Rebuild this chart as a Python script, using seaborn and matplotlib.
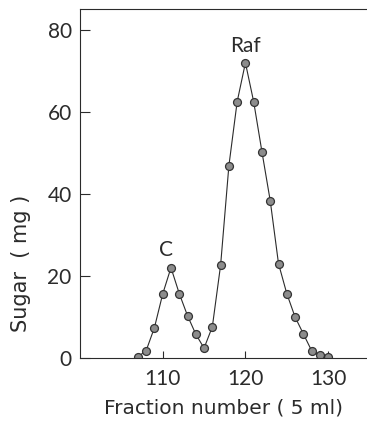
import matplotlib
matplotlib.use("Agg")
import matplotlib.pyplot as plt
import seaborn as sns
import pandas as pd

# Gel-filtration elution profile: sugar content per fraction
fraction = [107, 108, 109, 110, 111, 112, 113, 114, 115, 116, 117, 118,
            119, 120, 121, 122, 123, 124, 125, 126, 127, 128, 129, 130]
sugar_mg = [0.3, 1.8, 7.4, 15.6, 22.0, 15.7, 10.3, 5.8, 2.4, 7.6, 22.6, 46.8,
            62.4, 71.9, 62.4, 50.2, 38.3, 23.0, 15.7, 10.0, 5.9, 1.8, 0.7, 0.2]

# Peak labels
peak_names = ["C", "Raf"]
peak_fraction = [110.4, 120]
peak_label_y = [24.8, 74.5]

x_ticks = [110, 120, 130]
y_ticks = [0, 20, 40, 60, 80]

sns.set_style("ticks")
plt.rcParams["font.family"] = ["Lato", "DejaVu Sans"]
plt.rcParams["font.weight"] = "normal"

df = pd.DataFrame({"fraction": fraction, "sugar": sugar_mg})

fig = plt.figure(figsize=(3.67, 4.21), dpi=100)
ax = fig.add_axes([80 / 367, 1 - 358 / 421, 287 / 367, 349 / 421])

ink = "#2b2b2b"
sns.lineplot(data=df, x="fraction", y="sugar", ax=ax, color=ink, linewidth=0.8,
             marker="o", markersize=5.7, markerfacecolor="#8c8c8c",
             markeredgecolor="#333333", markeredgewidth=0.9)

for name, fx, fy in zip(peak_names, peak_fraction, peak_label_y):
    ax.text(fx, fy, name, ha="center", va="baseline", fontsize=15, color=ink)

ax.set_xlim(100, 134.7)
ax.set_ylim(0, 85)
ax.set_xticks(x_ticks)
ax.set_yticks(y_ticks)
ax.tick_params(axis="x", direction="in", length=5, width=0.8, pad=8,
               labelsize=15, colors=ink)
ax.tick_params(axis="y", direction="in", length=7, width=0.8, pad=6,
               labelsize=15, colors=ink)

for side in ["left", "bottom", "top"]:
    ax.spines[side].set_linewidth(0.8)
    ax.spines[side].set_color(ink)
ax.spines["right"].set_visible(False)

label_font = ["DejaVu Sans"]
ax.set_xlabel("Fraction number ( 5 ml)", fontsize=14.5, color=ink, labelpad=7,
              family=label_font)
ax.set_ylabel("Sugar  ( mg )", fontsize=15, color=ink, family=label_font)
ax.yaxis.set_label_coords(-0.17, 0.27)

fig.savefig("out.png", dpi=100)
